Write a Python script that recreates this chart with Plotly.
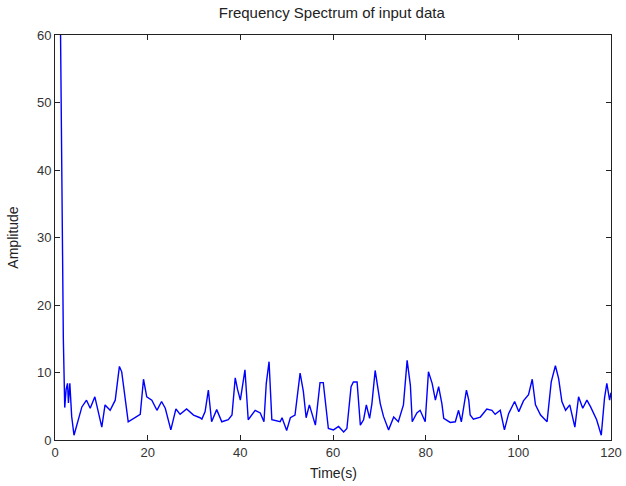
import plotly.graph_objects as go

time_s = [1.0, 1.3, 1.5, 1.8, 2.1, 2.4, 2.7, 2.9, 3.2, 3.6, 4.1, 5.0, 5.8, 6.8, 7.6, 8.6, 9.2, 10.1, 10.8, 11.9,
          13.0, 13.9, 14.4, 15.1, 15.8, 18.4, 19.1, 19.8, 20.9, 22.0, 23.0, 23.8, 25.0, 26.1, 27.0, 28.4, 29.9,
          31.3, 31.7, 32.4, 33.1, 33.8, 34.9, 36.0, 37.4, 38.2, 38.9, 39.4, 40.0, 41.0, 41.7, 43.2, 44.3, 45.1,
          45.6, 46.2, 46.8, 48.6, 49.0, 50.0, 50.8, 51.8, 52.9, 53.6, 54.2, 54.9, 56.2, 57.2, 57.9, 59.0, 60.1,
          61.2, 62.3, 63.0, 63.9, 64.4, 65.2, 65.9, 66.6, 67.2, 67.9, 68.4, 69.1, 70.2, 70.9, 72.0, 73.1, 74.1,
          75.2, 76.0, 76.7, 77.1, 78.1, 78.8, 79.9, 80.6, 81.4, 82.1, 82.8, 83.5, 83.9, 85.3, 86.4, 87.1, 87.7,
          88.8, 89.3, 89.6, 90.3, 91.8, 93.2, 94.3, 95.0, 96.1, 97.0, 97.9, 99.2, 100.1, 101.1, 102.2, 103.0,
          103.7, 104.8, 106.2, 107.1, 108.0, 108.7, 109.4, 110.2, 111.1, 112.2, 113.0, 113.9, 114.8, 115.6,
          116.9, 117.9, 118.6, 119.1, 119.7, 120.0]
amplitude = [75, 50, 33, 15, 4.8, 7.5, 8.4, 5.5, 8.4, 3.5, 0.7, 3.0, 4.9, 5.9, 4.7, 6.4, 4.5, 1.9, 5.2, 4.4,
             5.9, 10.9, 10.1, 6.0, 2.7, 3.8, 9.0, 6.4, 5.9, 4.4, 5.7, 4.7, 1.5, 4.6, 3.8, 4.6, 3.7,
             3.3, 3.1, 4.2, 7.4, 2.7, 4.5, 2.7, 3.0, 3.7, 9.2, 7.5, 5.9, 10.4, 3.0, 4.4, 4.0, 2.7,
             8.4, 11.6, 3.0, 2.7, 3.3, 1.4, 3.3, 3.7, 9.9, 7.2, 3.3, 5.2, 2.2, 8.5, 8.5, 1.7, 1.5,
             2.0, 1.2, 1.7, 7.9, 8.6, 8.6, 2.2, 3.0, 5.2, 3.2, 5.4, 10.3, 5.4, 3.5, 1.5, 3.4, 2.7,
             5.2, 11.8, 8.1, 2.7, 4.0, 4.4, 2.7, 10.1, 8.4, 5.9, 7.9, 5.4, 3.2, 2.6, 2.7, 4.4, 2.7,
             7.4, 5.9, 3.7, 3.1, 3.4, 4.6, 4.4, 3.8, 4.4, 1.5, 3.9, 5.7, 4.2, 5.8, 6.7, 9.0,
             5.2, 3.7, 2.7, 8.6, 11.0, 9.1, 5.7, 4.4, 5.2, 1.9, 6.4, 4.7, 5.9, 4.9,
             3.0, 0.7, 6.2, 8.4, 5.9, 7.0]
x_ticks = [0, 20, 40, 60, 80, 100, 120]
y_ticks = [0, 10, 20, 30, 40, 50, 60]

FONT = "Liberation Sans, Arial"

fig = go.Figure(go.Scatter(x=time_s, y=amplitude, mode="lines",
                           line=dict(color="#0000ff", width=1.4)))

axis_common = dict(showline=True, linecolor="#222222", linewidth=1, mirror="ticks",
                   ticks="inside", ticklen=5, tickcolor="#222222", showgrid=False,
                   zeroline=False,
                   tickfont=dict(family=FONT, size=13, color="#333333"))

fig.update_layout(
    width=626, height=486,
    margin=dict(l=55, r=15, t=35, b=46),
    paper_bgcolor="white", plot_bgcolor="white",
    showlegend=False,
    title=dict(text="Frequency Spectrum of input data", x=0.53, xanchor="center",
               y=0.985, yref="container", yanchor="top",
               font=dict(family=FONT, size=15, color="#222222")),
    xaxis=dict(range=[0, 120], tickvals=x_ticks, automargin=False,
               **axis_common),
    yaxis=dict(range=[0, 60], tickvals=y_ticks, automargin=False,
               title=dict(text="Amplitude", font=dict(family=FONT, size=14, color="#222222")),
               **axis_common),
    annotations=[dict(text="Time(s)", xref="paper", yref="paper", x=0.5, y=0,
                      yshift=-33, xanchor="center", yanchor="middle", showarrow=False,
                      font=dict(family=FONT, size=14, color="#222222"))],
)

fig.write_html("out.html", config={"displayModeBar": False},
               post_script="document.body.style.margin='0';document.body.style.overflow='hidden';")
